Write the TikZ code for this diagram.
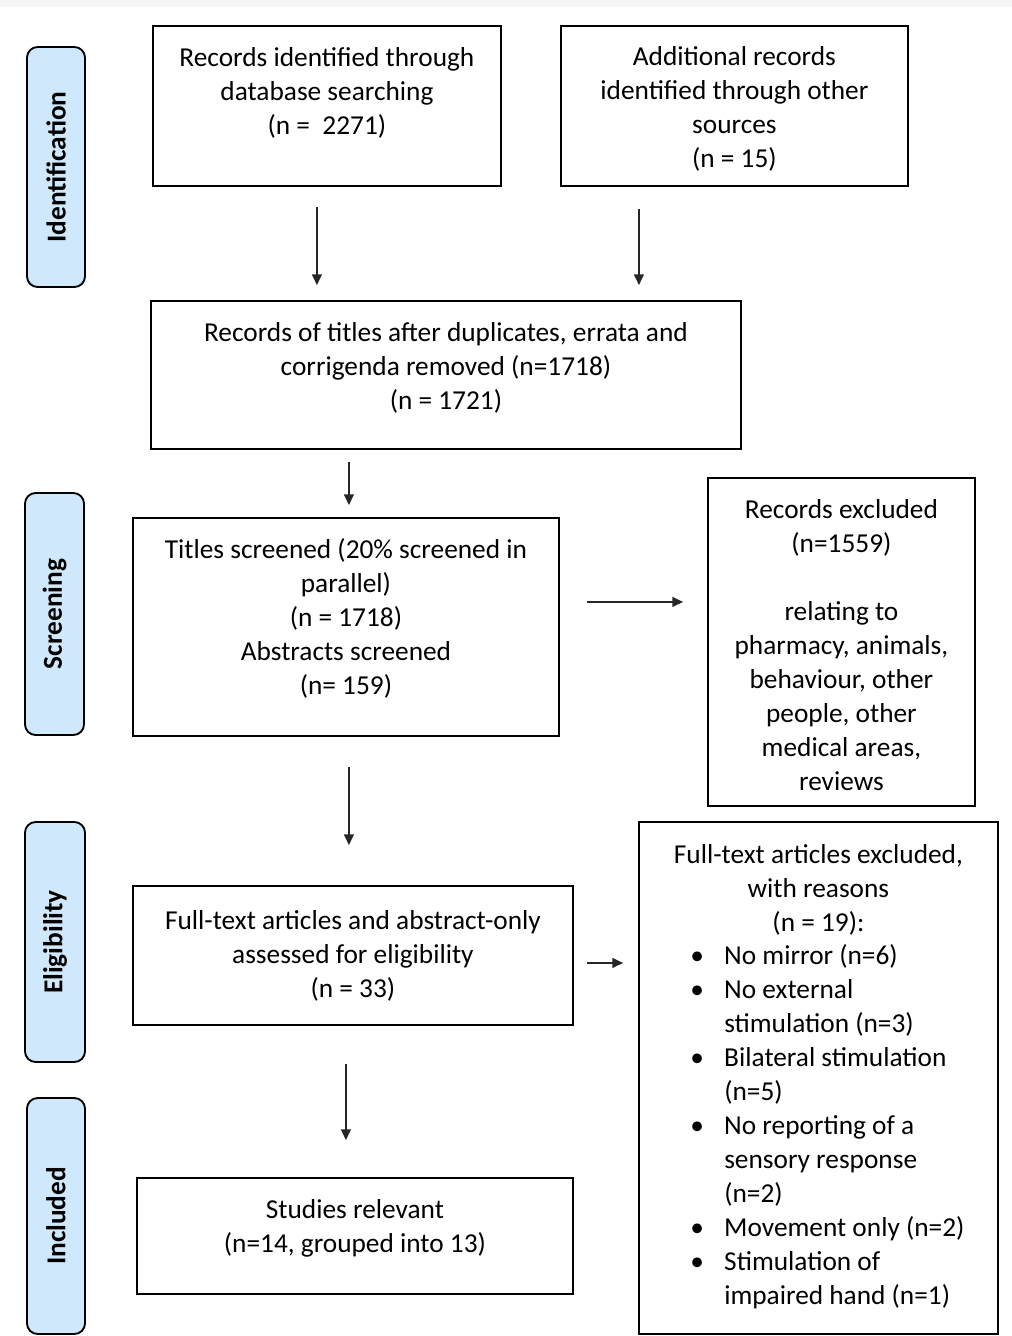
\documentclass[tikz,border=0pt]{standalone}
\usepackage{fontspec}
\setmainfont{Carlito}
\usetikzlibrary{arrows.meta, calc, positioning}
\newcommand{\pxu}{0.75pt}
% extra depth below the last line, lifts the text in its box
\newcommand{\lift}[1]{\rule[-#1]{0pt}{#1}}
\definecolor{phaseblue}{HTML}{CFE8FB}
\tikzset{
  box/.style={draw, line width=1.4pt, inner sep=0pt, align=center, anchor=north west},
  phase/.style={draw, line width=1.4pt, rounded corners=8pt, fill=phaseblue, inner sep=0pt, rotate=90, font=\fontsize{20.5pt}{25.5pt}\selectfont\bfseries},
  arr/.style={-{Triangle[length=8pt,width=7.5pt]}, line width=1pt, black!85},
}

\begin{document}
\begin{tikzpicture}[x=0.75pt, y=-0.75pt, font=\fontsize{20.5pt}{25.5pt}\selectfont]
\useasboundingbox (0,0) rectangle (1012,1336);
\fill[gray!8] (0,0) rectangle (1012,7);

% phases on the left
\node[phase, minimum width=240*\pxu, minimum height=58*\pxu] (ident) at (56,167) {Identification};
\node[phase, minimum width=242*\pxu, minimum height=59*\pxu] (screen) at (54.5,614) {Screening};
\node[phase, minimum width=240*\pxu, minimum height=60*\pxu] (elig) at (55,942) {Eligibility};
\node[phase, minimum width=236*\pxu, minimum height=58*\pxu] (incl) at (56,1216) {Included};

% boxes
\node[box, minimum width=348*\pxu, minimum height=160*\pxu] (recdb) at (152,25)
  {Records identified through\\database searching\\(n =\ \ 2271)\lift{23pt}};
\node[box, minimum width=347*\pxu, minimum height=160*\pxu] (addrec) at (560,25)
  {\rule{0pt}{19pt}Additional records\\identified through other\\sources\\(n = 15)};
\node[box, minimum width=590*\pxu, minimum height=148*\pxu] (dedup) at (150,300)
  {Records of titles after duplicates, errata and\\corrigenda removed (n=1718)\\(n = 1721)\lift{14pt}};
\node[box, minimum width=426*\pxu, minimum height=218*\pxu] (titles) at (132,517)
  {Titles screened (20\% screened in\\parallel)\\(n = 1718)\\Abstracts screened\\(n= 159)\lift{15.5pt}};
\node[box, minimum width=267*\pxu, minimum height=328*\pxu] (recexcl) at (707,477)
  {\rule{0pt}{19pt}Records excluded\\(n=1559)\\[25.5pt]relating to\\pharmacy, animals,\\behaviour, other\\people, other\\medical areas,\\reviews};
\node[box, minimum width=440*\pxu, minimum height=139*\pxu] (fulltext) at (132,885)
  {Full-text articles and abstract-only\\assessed for eligibility\\(n = 33)};
\node[box, minimum width=359*\pxu, minimum height=512*\pxu] (ftexcl) at (638,821) {};
\node[align=center, inner sep=0pt] (ftexhead) at ($(ftexcl.north)+(0,69)$)
  {Full-text articles excluded,\\with reasons\\(n = 19):};
\node[anchor=north west, inner sep=0pt] (ftexlist) at ($(ftexcl.north west)+(52,119)$) {%
  \begin{tabular}{@{}p{25.5pt}@{}l@{}}
  • & No mirror (n=6)\\
  • & No external\\
    & stimulation (n=3)\\
  • & Bilateral stimulation\\
    & (n=5)\\
  • & No reporting of a\\
    & sensory response\\
    & (n=2)\\
  • & Movement only (n=2)\\
  • & Stimulation of\\
    & impaired hand (n=1)
  \end{tabular}};
\node[box, minimum width=436*\pxu, minimum height=116*\pxu] (studies) at (136,1177)
  {Studies relevant\\(n=14, grouped into 13)\lift{15.5pt}};

% arrows
\coordinate (a1) at ($(recdb.south)+(-10,20)$);
\draw[arr, shorten >=11.25pt] (a1) -- (a1 |- dedup.north);
\coordinate (a2) at ($(addrec.south)+(-95.5,22)$);
\draw[arr, shorten >=11.25pt] (a2) -- (a2 |- dedup.north);
\coordinate (a3) at ($(dedup.south)+(-97,12)$);
\draw[arr, shorten >=9pt] (a3) -- (a3 |- titles.north);
\coordinate (a4) at ($(titles.east)+(27,-25)$);
\draw[arr, shorten >=18pt] (a4) -- (a4 -| recexcl.west);
\coordinate (a5) at ($(titles.south)+(3,30)$);
\draw[arr, shorten >=30pt] (a5) -- (a5 |- fulltext.north);
\coordinate (a6) at ($(fulltext.east)+(13,7.5)$);
\draw[arr, shorten >=11.25pt] (a6) -- (a6 -| ftexcl.west);
\coordinate (a7) at ($(fulltext.south)+(-7,38)$);
\draw[arr, shorten >=27.75pt] (a7) -- (a7 |- studies.north);
\end{tikzpicture}
\end{document}
